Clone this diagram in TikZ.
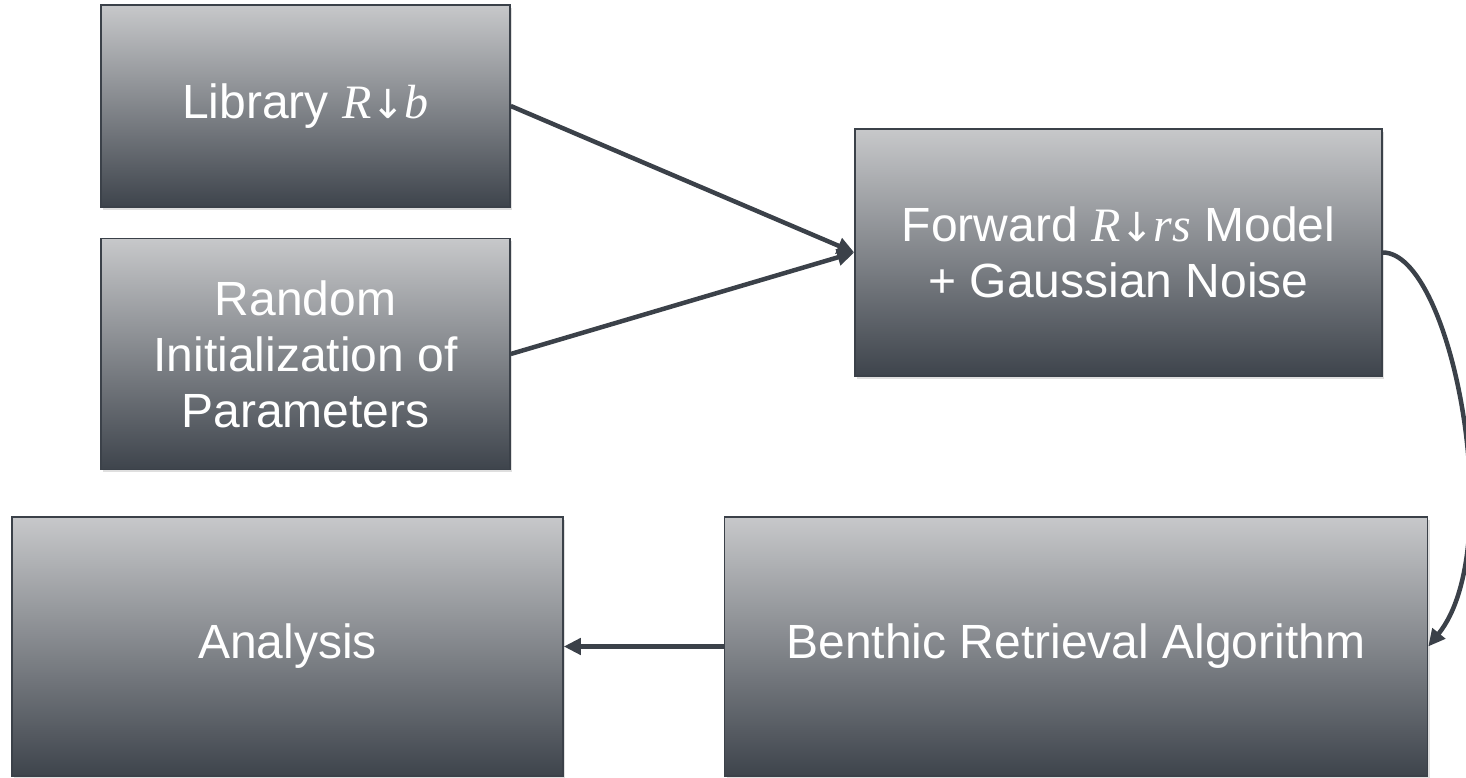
\documentclass[tikz,border=0pt]{standalone}
\usepackage{fontspec}
\setmainfont{Liberation Sans}
\newfontfamily\varfont{Liberation Serif}
\newfontfamily\arrowfont{DejaVu Sans}
\newcommand\rdown[1]{{\varfont\itshape R}{\arrowfont\fontsize{40}{40}\selectfont ↓}{\varfont\itshape #1}}
\usetikzlibrary{positioning,arrows.meta,shadows}
\definecolor{boxtop}{RGB}{199,200,202}
\definecolor{boxbot}{RGB}{62,68,76}
\definecolor{edge}{RGB}{59,65,73}
\begin{document}
\begin{tikzpicture}
        [x=1pt,y=1pt,
         box/.style={draw=edge,line width=1.5pt,top color=boxtop,bottom color=boxbot,
           text=white,align=center,inner sep=0pt,font=\fontsize{48}{56}\selectfont,
           drop shadow={shadow xshift=2pt,shadow yshift=-3pt,opacity=0.25}},
         link/.style={line width=4.5pt,draw=edge},
         >={Triangle[length=17pt,width=16pt]}]
        \useasboundingbox (0,0) rectangle (1466,778);
        \node[box,minimum width=409pt,minimum height=202pt] (L) at (305.5,672) {Library \rdown{b}};
        \node[box,below=30pt of L,minimum width=409pt,minimum height=231pt] (R) {Random\\Initialization of\\Parameters};
        \node[box,minimum width=527pt,minimum height=247pt] (F) at (1118.5,525.5) {Forward \rdown{rs} Model\\+ Gaussian Noise};
        \node[box,minimum width=551pt,minimum height=259pt] (A) at (287.5,131.5) {Analysis};
        \node[box,right=160pt of A,minimum width=703pt,minimum height=259pt] (B) {Benthic Retrieval Algorithm};

        \draw[->,link] (L.east) -- (F.west);
        \draw[->,link] (R.east) -- (F.west);
        \draw[->,link] (F.east) .. controls (1452,525.5) and (1508,230) .. (B.east);
        \draw[->,link] (B.west) -- (A.east);
      \end{tikzpicture}
\end{document}
